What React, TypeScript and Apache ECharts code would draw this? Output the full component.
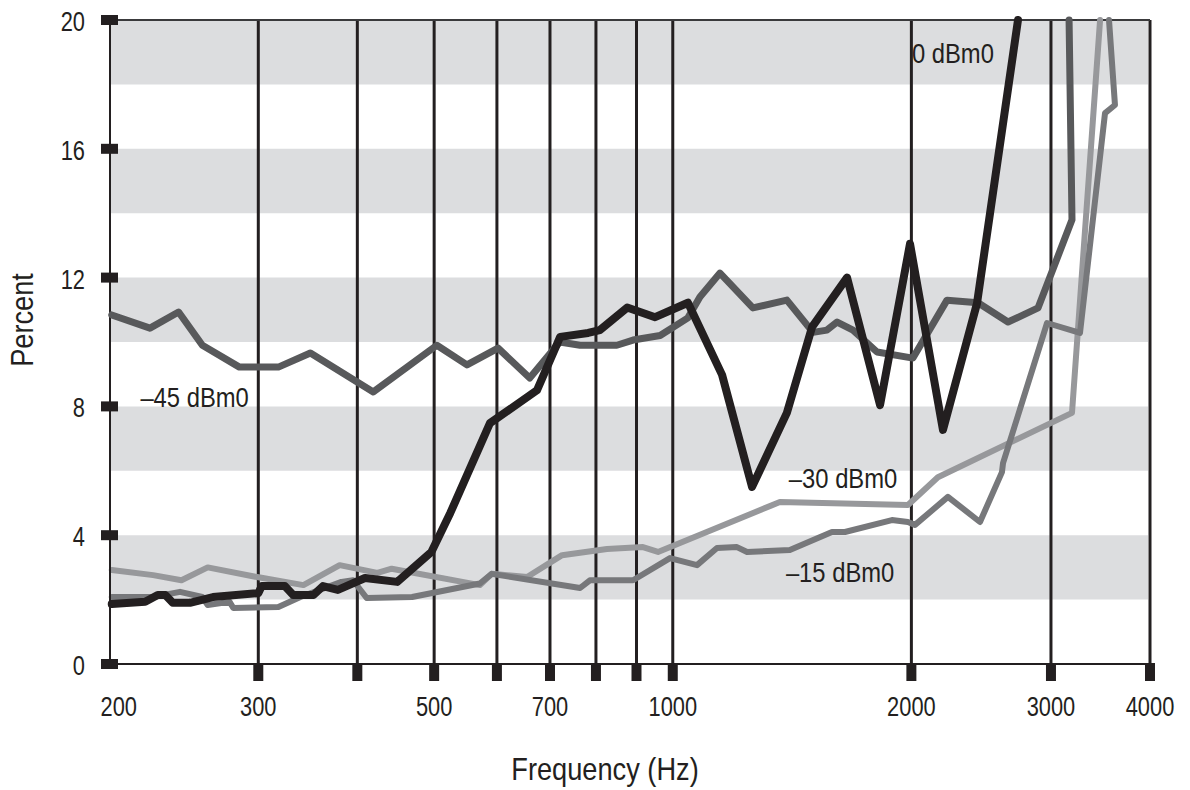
import React, { useEffect, useRef } from "react";
import * as echarts from "echarts";

const FONT = "'Liberation Sans', Arimo, Arial, sans-serif";
const INK = "#231f20";
const NUM_SCALE = 0.78;
const TXT_SCALE = 0.85;

// axis ranges
const xMin = 195;
const xMax = 4000;
const yMin = 0;
const yMax = 20;
const yInterval = 4;

// grid / ticks / labels
const gridFreqs = [300, 400, 500, 600, 700, 800, 900, 1000, 2000, 3000, 4000];
const xTickFreqs = [300, 400, 500, 600, 700, 800, 900, 1000, 2000, 3000, 4000];
const xLabelFreqs = [200, 300, 500, 700, 1000, 2000, 3000, 4000];
const yTicks = [0, 4, 8, 12, 16, 20];
const bandRanges = [[2, 4], [6, 8], [10, 12], [14, 16], [18, 20]];

// series: [frequency Hz, percent]
const s0dBm0 = [
  [196, 1.86], [216, 1.93], [224, 2.14], [229, 2.14], [234, 1.9], [246, 1.9], [263, 2.08],
  [300, 2.2], [303, 2.42], [324, 2.42], [332, 2.14], [352, 2.14], [362, 2.42], [378, 2.3],
  [409, 2.67], [449, 2.55], [496, 3.48], [524, 4.69], [588, 7.48], [674, 8.5], [721, 10.16],
  [782, 10.28], [809, 10.37], [876, 11.07], [950, 10.77], [1045, 11.22], [1154, 8.98],
  [1259, 5.5], [1393, 7.8], [1499, 10.47], [1659, 12.0], [1826, 8.04], [1992, 13.05],
  [2192, 7.27], [2420, 11.2], [2726, 20],
];
const sM45dBm0 = [
  [196, 10.84], [219, 10.43], [238, 10.93], [255, 9.9], [284, 9.22], [318, 9.22], [349, 9.66],
  [419, 8.45], [504, 9.9], [550, 9.29], [602, 9.81], [660, 8.88], [720, 10.0], [764, 9.9],
  [850, 9.9], [891, 10.06], [964, 10.2], [1045, 10.75], [1082, 11.4], [1147, 12.14],
  [1262, 11.06], [1393, 11.3], [1503, 10.3], [1565, 10.37], [1612, 10.62], [1688, 10.37],
  [1810, 9.69], [2009, 9.5], [2218, 11.3], [2427, 11.22], [2648, 10.62], [2890, 11.06],
  [3189, 13.8], [3162, 20],
];
const sM30dBm0 = [
  [196, 2.92], [221, 2.76], [240, 2.6], [259, 3.0], [299, 2.7], [342, 2.45], [380, 3.07],
  [424, 2.83], [442, 2.96], [571, 2.45], [591, 2.8], [655, 2.7], [725, 3.38], [826, 3.57],
  [917, 3.63], [958, 3.48], [1365, 5.03], [1980, 4.94], [2160, 5.8], [3189, 7.8], [3460, 20],
];
const sM15dBm0 = [
  [196, 2.08], [221, 2.08], [239, 2.24], [255, 2.08], [259, 1.83], [276, 1.93], [279, 1.74],
  [318, 1.77], [339, 2.08], [382, 2.55], [395, 2.6], [411, 2.05], [469, 2.08], [571, 2.5],
  [591, 2.8], [764, 2.36], [786, 2.6], [891, 2.6], [992, 3.29], [1073, 3.07], [1137, 3.6],
  [1205, 3.63], [1241, 3.48], [1405, 3.54], [1588, 4.1], [1649, 4.1], [1890, 4.47],
  [1980, 4.41], [2021, 4.32], [2224, 5.19], [2441, 4.41], [2602, 5.96], [2610, 6.24],
  [2966, 10.59], [3264, 10.28], [3510, 17.11], [3613, 17.36], [3551, 20],
];

const curveLabels = ["0 dBm0", "\u201345 dBm0", "\u201330 dBm0", "\u201315 dBm0"];
const curveLabelAnchors = [[2003, 18.98], [213, 8.29], [1401, 5.78], [1389, 2.86]];

const xTitle = "Frequency (Hz)";
const yTitle = "Percent";

const textStyle = (text: string, size: number, align: string) => ({
  text,
  fill: INK,
  fontSize: size,
  fontFamily: FONT,
  align,
  verticalAlign: "middle",
  textAlign: align,
  textVerticalAlign: "middle",
});

export default function App() {
  const ref = useRef<HTMLDivElement>(null);

  useEffect(() => {
    if (!ref.current) return;
    const chart = echarts.init(ref.current, undefined, { renderer: "svg" });

    const lineSeries = (data: number[][], color: string, width: number, z: number) => ({
      type: "line",
      data,
      symbol: "none",
      showSymbol: false,
      clip: false,
      z,
      lineStyle: { color, width, cap: "round", join: "round" },
      silent: true,
    });

    const option: any = {
      animation: false,
      backgroundColor: "#ffffff",
      grid: { left: 110, right: 40, top: 20, bottom: 126, containLabel: false },
      xAxis: {
        type: "log",
        logBase: 10,
        min: xMin,
        max: xMax,
        z: 5,
        axisLine: { show: true, lineStyle: { color: INK, width: 2 } },
        axisTick: { show: false },
        axisLabel: { show: false },
        splitLine: { show: false },
      },
      yAxis: {
        type: "value",
        min: yMin,
        max: yMax,
        interval: yInterval,
        z: 5,
        axisLine: { show: true, lineStyle: { color: INK, width: 2 } },
        axisTick: { show: false },
        splitLine: { show: false },
        axisLabel: { show: false },
      },
      graphic: [
        {
          type: "text",
          x: 605,
          y: 769,
          scaleX: TXT_SCALE,
          style: textStyle(xTitle, 32, "center"),
        },
        {
          type: "text",
          x: 22,
          y: 320,
          rotation: Math.PI / 2,
          scaleX: TXT_SCALE,
          style: textStyle(yTitle, 32, "center"),
        },
      ],
      series: [
        // grey bands
        {
          type: "custom",
          z: 1,
          silent: true,
          data: bandRanges.map((b) => [xMin, b[0], b[1]]),
          renderItem: (params: any, api: any) => {
            const cs = params.coordSys;
            const top = api.coord([xMin, api.value(2)])[1];
            const bot = api.coord([xMin, api.value(1)])[1];
            return {
              type: "rect",
              shape: { x: cs.x + 1, y: top, width: cs.width - 3, height: bot - top },
              style: { fill: "#dcdddf" },
            };
          },
        },
        // vertical grid lines
        {
          type: "custom",
          z: 2,
          silent: true,
          data: gridFreqs.map((f) => [f, yMin]),
          renderItem: (params: any, api: any) => {
            const p0 = api.coord([api.value(0), yMin]);
            const p1 = api.coord([api.value(0), yMax]);
            return {
              type: "line",
              shape: { x1: p0[0], y1: p0[1], x2: p1[0], y2: p1[1] },
              style: { stroke: INK, lineWidth: 3 },
            };
          },
        },
        // top frame line
        {
          type: "custom",
          z: 2,
          silent: true,
          data: [[xMin, yMax]],
          renderItem: (params: any, api: any) => {
            const p0 = api.coord([xMin, yMax]);
            const p1 = api.coord([xMax, yMax]);
            return {
              type: "line",
              shape: { x1: p0[0], y1: p0[1], x2: p1[0], y2: p1[1] },
              style: { stroke: "#3a3a3c", lineWidth: 2 },
            };
          },
        },
        lineSeries(sM30dBm0, "#97989b", 6, 3),
        lineSeries(sM15dBm0, "#77787b", 6, 4),
        lineSeries(sM45dBm0, "#58595b", 7, 5),
        lineSeries(s0dBm0, INK, 8, 6),
        // x ticks
        {
          type: "custom",
          z: 10,
          silent: true,
          data: xTickFreqs.map((f) => [f, yMin]),
          renderItem: (params: any, api: any) => {
            const p = api.coord([api.value(0), yMin]);
            return {
              type: "rect",
              shape: { x: p[0] - 5, y: p[1] - 1, width: 10, height: 18 },
              style: { fill: INK },
            };
          },
        },
        // y ticks
        {
          type: "custom",
          z: 10,
          silent: true,
          data: yTicks.map((v) => [xMin, v]),
          renderItem: (params: any, api: any) => {
            const p = api.coord([xMin, api.value(1)]);
            return {
              type: "rect",
              shape: { x: p[0] - 9, y: p[1] - 5, width: 17, height: 10 },
              style: { fill: INK },
            };
          },
        },
        // y tick labels
        {
          type: "custom",
          z: 10,
          silent: true,
          data: yTicks.map((v) => [xMin, v]),
          renderItem: (params: any, api: any) => {
            const p = api.coord([xMin, api.value(1)]);
            return {
              type: "text",
              x: p[0] - 25,
              y: p[1] + 1,
              scaleX: NUM_SCALE,
              style: textStyle(String(yTicks[params.dataIndex]), 28, "right"),
            };
          },
        },
        // x tick labels
        {
          type: "custom",
          z: 10,
          silent: true,
          data: xLabelFreqs.map((f) => [f, yMin]),
          renderItem: (params: any, api: any) => {
            const p = api.coord([api.value(0), yMin]);
            return {
              type: "text",
              x: p[0],
              y: p[1] + 42,
              scaleX: NUM_SCALE,
              style: textStyle(String(xLabelFreqs[params.dataIndex]), 28, "center"),
            };
          },
        },
        // curve labels
        {
          type: "custom",
          z: 10,
          silent: true,
          data: curveLabelAnchors,
          renderItem: (params: any, api: any) => {
            const p = api.coord([api.value(0), api.value(1)]);
            return {
              type: "text",
              x: p[0],
              y: p[1],
              scaleX: TXT_SCALE,
              style: textStyle(curveLabels[params.dataIndex], 28, "left"),
            };
          },
        },
      ],
    };

    chart.setOption(option);
    return () => chart.dispose();
  }, []);

  return (
    <div
      ref={ref}
      style={{ position: "absolute", left: 0, top: 0, width: 1190, height: 790, background: "#fff" }}
    />
  );
}
